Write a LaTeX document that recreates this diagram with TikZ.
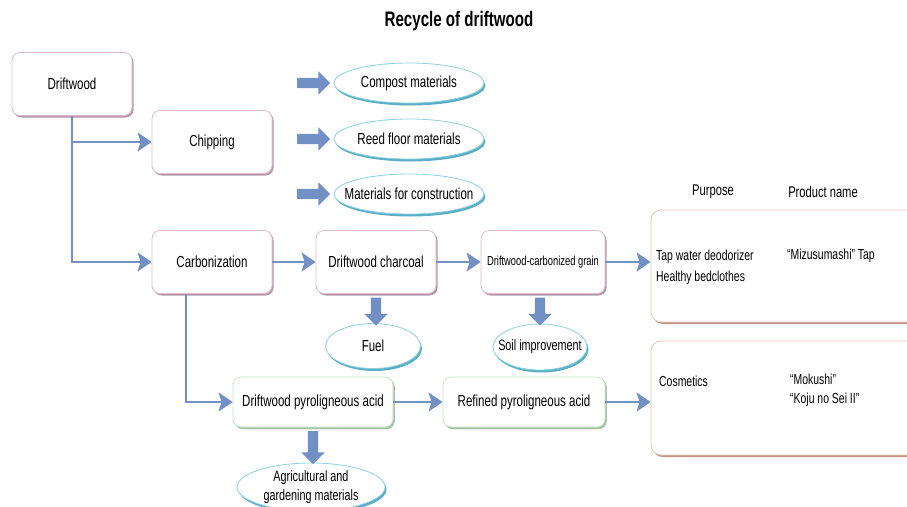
\documentclass[tikz,border=0pt]{standalone}
\usepackage{fontspec}
\setmainfont[FakeStretch=0.72]{Liberation Sans}
\usepackage{tikz}
\usetikzlibrary{shapes.geometric,shapes.arrows,shadows,arrows.meta}
\definecolor{flowblue}{HTML}{7390C4}
\definecolor{pinkline}{HTML}{DCBCCC}
\definecolor{pinkshade}{HTML}{B896AC}
\definecolor{greenline}{HTML}{C6E2C6}
\definecolor{greenshade}{HTML}{A4C4A4}
\definecolor{blueline}{HTML}{8CD0E2}
\definecolor{blueshade}{HTML}{5AAEC6}
\definecolor{brownline}{HTML}{E6C2B4}
\definecolor{brownshade}{HTML}{C09484}

\begin{document}
\begin{tikzpicture}[x=1pt,y=-1pt,font=\fontsize{16}{17}\selectfont]
            \tikzstyle{stage}=[rectangle, rounded corners=8pt, thick, draw=pinkline, fill=white, minimum width=120pt, minimum height=63pt, drop shadow={shadow xshift=1.6pt, shadow yshift=-2pt, fill=pinkshade, opacity=1}]
            \tikzstyle{acid}=[stage, draw=greenline, minimum height=50pt, drop shadow={shadow xshift=1.6pt, shadow yshift=-2pt, fill=greenshade, opacity=1}]
            \tikzstyle{usebox}=[rectangle, rounded corners=10pt, thick, draw=brownline, fill=white, drop shadow={shadow xshift=1.6pt, shadow yshift=-2pt, fill=brownshade, opacity=1}]
            \tikzstyle{product}=[ellipse, thick, draw=blueline, fill=white, minimum width=150pt, minimum height=40pt, inner sep=0pt, drop shadow={shadow xshift=1.5pt, shadow yshift=-2.5pt, fill=blueshade, opacity=1}]
            \tikzstyle{conn}=[flowblue, line width=2pt, -{Stealth[length=14pt,width=19pt,inset=3pt]}]
            \tikzstyle{fat}=[single arrow, fill=flowblue, minimum width=23pt, single arrow head extend=6.5pt, single arrow head indent=0pt, inner sep=5pt]
            \tikzstyle{side}=[font=\fontsize{14.5}{21}\selectfont, anchor=west, align=left, inner sep=0pt]
            \clip (0,0) rectangle (907,506);

            \node[font=\fontsize{21}{22}\selectfont\bfseries] (Title) at (459,21){Recycle of driftwood};

            \node[stage] (DW) at (72,84){Driftwood};
            \node[stage] (Chip) at (212,142){Chipping};
            \node[stage] (Carb) at (212,262){Carbonization};
            \node[stage] (Coal) at (376,262){Driftwood charcoal};
            \node[stage, minimum width=124pt, font=\fontsize{13}{14}\selectfont] (Grain) at (543,262){Driftwood-carbonized grain};
            \node[acid, minimum width=160pt] (Pyro) at (313,402){Driftwood pyroligneous acid};
            \node[acid, minimum width=162pt] (Refined) at (524,402){Refined pyroligneous acid};

            \node[product] (Compost) at (409,83){Compost materials};
            \node[product] (Reed) at (409,139){Reed floor materials};
            \node[product, inner xsep=-24pt] (Build) at (409,194){Materials for construction};
            \node[product, minimum width=95pt, minimum height=45pt] (Fuel) at (373,346){Fuel};
            \node[product, minimum width=94pt, minimum height=46pt, inner xsep=-16pt, font=\fontsize{15}{16}\selectfont] (Soil) at (540,347){Soil improvement};
            \node[product, minimum width=148pt, minimum height=48pt, inner xsep=-12pt, align=center, font=\fontsize{15}{19}\selectfont] (Agri) at (311,487){Agricultural and\\gardening materials};

            \node[font=\fontsize{15.5}{16}\selectfont] (Purpose) at (713,192){Purpose};
            \node[font=\fontsize{15.5}{16}\selectfont] (Pname) at (823,192){Product name};
            \node[usebox, minimum width=270pt, minimum height=112pt] (UseA) at (786,266){};
            \node[usebox, minimum width=270pt, minimum height=114pt] (UseB) at (786,398){};
            \node[side] (PurA) at (656,267){Tap water deodorizer\\Healthy bedclothes};
            \node[side] (NameA) at (787,256){``Mizusumashi'' Tap};
            \node[side] (PurB) at (659,381){Cosmetics};
            \node[side, font=\fontsize{14.5}{19}\selectfont] (NameB) at (790,390){``Mokushi''\\``Koju no Sei II''};

            \node[fat, minimum height=33pt] (FA) at (311,83){};
            \node[fat, minimum height=33pt] (FB) at (311,139){};
            \node[fat, minimum height=33pt] (FC) at (311,194){};
            \node[fat, minimum height=28pt, shape border rotate=270] (FD) at (376,309){};
            \node[fat, minimum height=28pt, shape border rotate=270] (FE) at (540,309){};
            \node[fat, minimum height=33pt, shape border rotate=270] (FF) at (313,445){};

            \draw[conn] (DW.south) |- (Carb.west);
            \draw[conn] (DW.south |- Chip.west) -- (Chip.west);
            \draw[conn] ([xshift=-26pt]Carb.south) |- (Pyro.west);
            \path (Carb) edge [conn] (Coal);
            \path (Coal) edge [conn] (Grain);
            \path (Grain) edge [conn] (Grain -| UseA.west);
            \path (Pyro) edge [conn] (Refined);
            \path (Refined) edge [conn] (Refined -| UseB.west);
        \end{tikzpicture}
\end{document}
